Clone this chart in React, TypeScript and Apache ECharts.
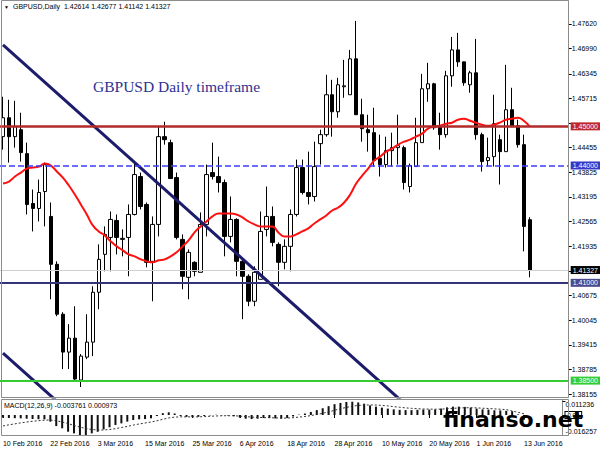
import { useEffect, useRef } from 'react';
import * as echarts from 'echarts';

// ---- categories (trading days) ----
const febDays = [10, 11, 12, 15, 16, 17, 18, 19, 22, 23, 24, 25, 26, 29];
const marDays = [1, 2, 3, 4, 7, 8, 9, 10, 11, 14, 15, 16, 17, 18, 21, 22, 23, 24, 25, 28, 29, 30, 31];
const aprDays = [1, 4, 5, 6, 7, 8, 11, 12, 13, 14, 15, 18, 19, 20, 21, 22, 25, 26, 27, 28, 29];
const mayDays = [2, 3, 4, 5, 6, 9, 10, 11, 12, 13, 16, 17, 18, 19, 20, 23, 24, 25, 26, 27, 30, 31];
const junDays = [1, 2, 3, 6, 7, 8, 9, 10, 13];
const monthNames = ['Feb', 'Mar', 'Apr', 'May', 'Jun'];
const monthDays = [febDays, marDays, aprDays, mayDays, junDays];
const emptySlots = 6;

// ---- OHLC ----
const opens = [
  1.44737, 1.45221, 1.44737, 1.44915, 1.44303, 1.43028, 1.42901, 1.43334, 1.42697, 1.41473,
  1.40198, 1.39229, 1.39586, 1.38515, 1.39101, 1.39484, 1.40759, 1.41728, 1.42161, 1.42595,
  1.4211, 1.42161, 1.42748, 1.43717, 1.43003, 1.41549, 1.42493, 1.44737, 1.44584, 1.43691,
  1.4211, 1.41141, 1.41524, 1.41269, 1.42493, 1.43819, 1.43717, 1.43564, 1.42187, 1.4262,
  1.41549, 1.41167, 1.40529, 1.4109, 1.42365, 1.42697, 1.41983, 1.41524, 1.41932, 1.42748,
  1.43946, 1.43309, 1.43207, 1.44558, 1.44788, 1.45808, 1.45374, 1.46012, 1.45808, 1.46726,
  1.45298, 1.44915, 1.44839, 1.44176, 1.44023, 1.4438, 1.44456, 1.44456, 1.43462, 1.43972,
  1.44584, 1.45961, 1.46088, 1.44992, 1.44788, 1.46292, 1.46955, 1.46649, 1.46063, 1.46369,
  1.44788, 1.44125, 1.44227, 1.4466, 1.44354, 1.45425, 1.45017, 1.44533, 1.42614,
];
const closes = [
  1.45221, 1.44737, 1.44992, 1.44329, 1.43003, 1.42901, 1.43309, 1.44023, 1.41473, 1.40198,
  1.39229, 1.39586, 1.3854, 1.39127, 1.39484, 1.40759, 1.416, 1.42238, 1.4262, 1.42161,
  1.42136, 1.42748, 1.43768, 1.42952, 1.41524, 1.42493, 1.44737, 1.4466, 1.43666, 1.42161,
  1.41167, 1.41779, 1.41294, 1.42493, 1.43768, 1.43717, 1.43564, 1.42187, 1.4262, 1.41549,
  1.41167, 1.40529, 1.41269, 1.42314, 1.42697, 1.42034, 1.41524, 1.41932, 1.42748, 1.43946,
  1.43309, 1.43207, 1.43972, 1.44788, 1.45808, 1.45374, 1.46063, 1.46037, 1.46726, 1.45298,
  1.44941, 1.44839, 1.44125, 1.44023, 1.4438, 1.44456, 1.44507, 1.43564, 1.43997, 1.44584,
  1.45961, 1.46088, 1.44966, 1.44788, 1.46292, 1.46955, 1.46649, 1.46114, 1.46369, 1.44788,
  1.44099, 1.44201, 1.45068, 1.44354, 1.45425, 1.44992, 1.44533, 1.42442, 1.41327,
];
const lows = [
  1.44405, 1.44074, 1.44456, 1.44099, 1.42748, 1.42314, 1.42569, 1.42442, 1.4058, 1.40147,
  1.38795, 1.38795, 1.38515, 1.38336, 1.3905, 1.39127, 1.40325, 1.41294, 1.41294, 1.41728,
  1.41677, 1.41167, 1.42722, 1.42875, 1.41396, 1.40529, 1.42187, 1.44533, 1.43666, 1.4211,
  1.40835, 1.4058, 1.41167, 1.41269, 1.42187, 1.4364, 1.43309, 1.41677, 1.42034, 1.41167,
  1.4007, 1.40402, 1.40402, 1.4109, 1.42187, 1.41932, 1.40912, 1.41345, 1.41294, 1.42697,
  1.43258, 1.43003, 1.43079, 1.44023, 1.44737, 1.44737, 1.45221, 1.45731, 1.45808, 1.45298,
  1.44609, 1.44354, 1.43972, 1.43717, 1.43946, 1.43972, 1.44023, 1.43385, 1.43309, 1.43972,
  1.44584, 1.45629, 1.44915, 1.44405, 1.44711, 1.46012, 1.46522, 1.46037, 1.45859, 1.4466,
  1.43844, 1.43972, 1.43972, 1.43513, 1.44354, 1.44992, 1.44456, 1.41804, 1.41142,
];
const highs = [
  1.45757, 1.4568, 1.45655, 1.45349, 1.44584, 1.43385, 1.4364, 1.44074, 1.43054, 1.41549,
  1.40249, 1.39943, 1.40402, 1.39178, 1.40198, 1.40912, 1.41983, 1.42442, 1.42824, 1.42748,
  1.42365, 1.43003, 1.44074, 1.43819, 1.43054, 1.42697, 1.44992, 1.45119, 1.4466, 1.43819,
  1.42238, 1.41855, 1.41549, 1.42799, 1.44023, 1.44584, 1.44227, 1.4364, 1.43207, 1.4265,
  1.41575, 1.41218, 1.41422, 1.42824, 1.43462, 1.42952, 1.42034, 1.4211, 1.42875, 1.4415,
  1.4415, 1.44354, 1.44609, 1.44915, 1.46318, 1.4619, 1.46241, 1.467, 1.46955, 1.47695,
  1.45706, 1.45298, 1.45476, 1.44788, 1.44737, 1.44839, 1.45298, 1.44507, 1.44048, 1.45221,
  1.46343, 1.46624, 1.46114, 1.45349, 1.4642, 1.47287, 1.47389, 1.46649, 1.4642, 1.47236,
  1.44839, 1.44711, 1.45808, 1.44788, 1.46573, 1.45986, 1.4517, 1.44788, 1.42677,
];

// ---- moving average (red) ----
const maValues = [
  1.43538, 1.43589, 1.43717, 1.43819, 1.43921, 1.43946, 1.43972, 1.44048, 1.43997, 1.43844,
  1.43691, 1.43487, 1.43258, 1.43003, 1.42748, 1.42467, 1.42314, 1.42212, 1.42059, 1.41932,
  1.4183, 1.41728, 1.41677, 1.416, 1.41549, 1.41524, 1.41575, 1.416, 1.41677, 1.41779,
  1.41932, 1.42085, 1.42289, 1.42442, 1.42569, 1.42697, 1.42773, 1.42773, 1.42773, 1.42748,
  1.42671, 1.42569, 1.42493, 1.42442, 1.42442, 1.42442, 1.42289, 1.42187, 1.42187, 1.42238,
  1.42314, 1.42391, 1.42518, 1.4262, 1.42722, 1.4285, 1.42926, 1.43054, 1.43258, 1.43538,
  1.43742, 1.43921, 1.44125, 1.44227, 1.44354, 1.44431, 1.44533, 1.44609, 1.4466, 1.44737,
  1.44813, 1.44941, 1.44992, 1.45017, 1.45068, 1.45094, 1.4517, 1.45196, 1.45145, 1.45094,
  1.45043, 1.45017, 1.45043, 1.45094, 1.4517, 1.45196, 1.45221, 1.45145, 1.44992,
];

// ---- trend lines: [bar index, price] ----
const upperTrend = [[0, 1.47083], [70, 1.37512]];
const lowerTrend = [[0, 1.39203], [10, 1.37836]];

// ---- horizontal levels ----
const levelValues = [1.45, 1.44, 1.41327, 1.41, 1.385];

// ---- price axis ----
const priceMin = 1.38081;
const priceMax = 1.48205;
const priceTicks = [
  1.38155, 1.38785, 1.39415, 1.40045, 1.40675, 1.41305, 1.41935, 1.42565,
  1.43195, 1.43825, 1.44455, 1.45085, 1.45715, 1.46345, 1.4699, 1.4762,
];
// labels hidden behind the level tags in the reference
const priceLabels = [
  1.38155, 1.38785, 1.39415, 1.40045, 1.40675, 1.41935, 1.42565,
  1.43195, 1.43825, 1.44455, 1.45715, 1.46345, 1.4699, 1.4762,
];

// ---- MACD ----
const macdMain = [
  -0.0022, -0.0024, -0.0026, -0.0027, -0.003, -0.0032, -0.0034, -0.0035, -0.0054, -0.009,
  -0.0108, -0.0136, -0.0149, -0.0163, -0.0163, -0.0149, -0.0136, -0.0117, -0.01, -0.0081,
  -0.0068, -0.0054, -0.0041, -0.0035, -0.0033, -0.0027, -0.0008, 0.0015, 0.0022, 0.0012,
  -0.0008, -0.0015, -0.0018, -0.0015, -0.0008, -0.0003, 0.0002, -0.0002, -0.0004, -0.001,
  -0.0022, -0.003, -0.0033, -0.003, -0.0025, -0.0024, -0.0028, -0.003, -0.0025, -0.0012,
  0.0003, 0.0012, 0.0025, 0.004, 0.0055, 0.0072, 0.0088, 0.0098, 0.0106, 0.0108,
  0.0102, 0.0092, 0.0078, 0.0068, 0.006, 0.0052, 0.0046, 0.0042, 0.004, 0.004,
  0.0042, 0.0045, 0.0044, 0.0045, 0.0052, 0.0062, 0.0068, 0.0068, 0.0066, 0.006,
  0.0052, 0.0046, 0.0044, 0.0038, 0.0037, 0.0034, 0.003, 0.0005, -0.003761,
];
const macdSignal = [
  -0.0089, -0.008, -0.0072, -0.0064, -0.0057, -0.0051, -0.0046, -0.0042, -0.0041, -0.0047,
  -0.0057, -0.007, -0.0085, -0.0098, -0.011, -0.0118, -0.0122, -0.0122, -0.0118, -0.0111,
  -0.0102, -0.0093, -0.0082, -0.0073, -0.0065, -0.0057, -0.0047, -0.0035, -0.0024, -0.0017,
  -0.0015, -0.0015, -0.0015, -0.0015, -0.0013, -0.001, -0.0008, -0.0006, -0.0006, -0.0006,
  -0.0009, -0.0013, -0.0017, -0.002, -0.0021, -0.0022, -0.0023, -0.0025, -0.0025, -0.0022,
  -0.0017, -0.0012, -0.0005, 0.0004, 0.0014, 0.0026, 0.0038, 0.0051, 0.0062, 0.0071,
  0.0078, 0.0081, 0.0082, 0.0081, 0.0078, 0.0074, 0.0068, 0.0063, 0.0058, 0.0054,
  0.0051, 0.0049, 0.0048, 0.0047, 0.0048, 0.0051, 0.0054, 0.0057, 0.0059, 0.0059,
  0.0058, 0.0055, 0.0053, 0.005, 0.0047, 0.0044, 0.0032, 0.0022, 0.000973,
];
const macdMin = -0.016257;
const macdMax = 0.0122;
const macdTicks = [-0.016257, 0, 0.011236];

const FONT = 'Liberation Sans, Arial, sans-serif';

export default function App() {
  const ref = useRef<HTMLDivElement>(null);

  useEffect(() => {
    if (!ref.current) return;
    const chart = echarts.init(ref.current, null, { renderer: 'svg' });

    const dates: string[] = [];
    monthDays.forEach((days, mi) => days.forEach((d) => dates.push(`${d} ${monthNames[mi]} 2016`)));
    const categories = [...dates, ...Array(emptySlots).fill('')];
    const candles = opens.map((o, i) => [o, closes[i], lows[i], highs[i]]);

    const levelStyles = [
      { color: '#B22B2B', width: 2.5, type: 'solid', tag: '#C0282D', txt: '#fff' },
      { color: '#3C3CFF', width: 1.5, type: 'dashed', tag: '#3737C8', txt: '#fff' },
      { color: '#CFCFCF', width: 1, type: 'solid', tag: '#000', txt: '#fff' },
      { color: '#33337A', width: 2, type: 'solid', tag: '#4A4A8C', txt: '#fff' },
      { color: '#33CC33', width: 2, type: 'solid', tag: '#33CC33', txt: '#fff' },
    ];

    const option: any = {
      animation: false,
      backgroundColor: '#ffffff',
      grid: [
        { left: -1, width: 570, top: 1, height: 396 },
        { left: -1, width: 570, top: 400, height: 35 },
      ],
      xAxis: [
        {
          gridIndex: 0, type: 'category', data: categories, boundaryGap: true,
          axisLine: { show: false }, axisTick: { show: false }, axisLabel: { show: false },
          splitLine: { show: false },
        },
        {
          gridIndex: 1, type: 'category', data: categories, boundaryGap: true,
          axisLine: { show: false },
          axisTick: { show: true, interval: 7, alignWithLabel: true, length: 3, lineStyle: { color: '#000' } },
          axisLabel: { interval: 7, align: 'left', fontSize: 7, fontFamily: FONT, color: '#000', margin: 5 },
          splitLine: { show: false },
        },
      ],
      yAxis: [
        {
          gridIndex: 0, type: 'value', position: 'right', min: priceMin, max: priceMax,
          axisLine: { show: true, lineStyle: { color: '#8c8c8c' } },
          axisTick: { show: true, customValues: priceTicks, length: 3, lineStyle: { color: '#000' } },
          axisLabel: {
            customValues: priceLabels, formatter: (v: number) => v.toFixed(5),
            fontSize: 7, fontFamily: FONT, color: '#000', margin: 3,
          },
          splitLine: { show: false },
        },
        {
          gridIndex: 1, type: 'value', position: 'right', min: macdMin, max: macdMax,
          axisLine: { show: true, lineStyle: { color: '#8c8c8c' } },
          axisTick: { show: true, customValues: macdTicks, length: 3, lineStyle: { color: '#000' } },
          axisLabel: {
            customValues: macdTicks,
            formatter: (v: number) => (v === 0 ? '{z|0.00}' : v.toFixed(6)),
            fontSize: 7, fontFamily: FONT, color: '#000', margin: 3,
            verticalAlignMinLabel: 'bottom', verticalAlignMaxLabel: 'top',
            rich: {
              z: { fontSize: 6, fontFamily: FONT, borderColor: '#000', borderWidth: 1, padding: [0, 2], backgroundColor: '#fff' },
            },
          },
          splitLine: { show: false },
        },
      ],
      series: [
        {
          type: 'candlestick', xAxisIndex: 0, yAxisIndex: 0, data: candles, barWidth: 4, z: 2,
          itemStyle: { color: '#ffffff', color0: '#000000', borderColor: '#000000', borderColor0: '#000000', borderWidth: 1 },
        },
        {
          type: 'line', xAxisIndex: 0, yAxisIndex: 0, data: maValues, smooth: true, showSymbol: false, z: 3,
          lineStyle: { color: '#FF1010', width: 2 },
          markLine: {
            symbol: 'none', silent: true, animation: false, precision: 5,
            data: levelValues.map((v, i) => ({
              yAxis: v,
              lineStyle: {
                color: levelStyles[i].color, width: levelStyles[i].width, type: levelStyles[i].type,
                dashOffset: 0, opacity: 1,
              },
              label: {
                show: true, position: 'end', distance: 2,
                formatter: () => v.toFixed(5),
                backgroundColor: levelStyles[i].tag, color: levelStyles[i].txt,
                fontSize: 7, fontFamily: FONT, padding: [1, 2, 0, 2],
              },
            })),
          },
        },
        {
          type: 'line', xAxisIndex: 0, yAxisIndex: 0, data: upperTrend, showSymbol: false, z: 4,
          lineStyle: { color: '#1C1C6B', width: 3 },
        },
        {
          type: 'line', xAxisIndex: 0, yAxisIndex: 0, data: lowerTrend, showSymbol: false, z: 4,
          lineStyle: { color: '#1C1C6B', width: 3 },
        },
        {
          type: 'bar', xAxisIndex: 1, yAxisIndex: 1, data: macdMain, barWidth: 2,
          itemStyle: { color: '#111111' },
        },
        {
          type: 'line', xAxisIndex: 1, yAxisIndex: 1, data: macdSignal, showSymbol: false,
          lineStyle: { color: '#333333', width: 1, type: [2, 2] },
        },
      ],
      graphic: [
        { type: 'rect', shape: { x: 1.5, y: 0.5, width: 567, height: 397 }, style: { fill: 'none', stroke: '#8c8c8c', lineWidth: 1 }, silent: true, z: 10 },
        { type: 'rect', shape: { x: 1.5, y: 399.5, width: 567, height: 36 }, style: { fill: 'none', stroke: '#8c8c8c', lineWidth: 1 }, silent: true, z: 10 },
        { type: 'text', left: 4, top: 4, style: { text: '▼', fontSize: 5, fill: '#000', fontFamily: FONT }, z: 11 },
        { type: 'text', left: 13, top: 3, style: { text: 'GBPUSD,Daily  1.42614 1.42677 1.41142 1.41327', fontSize: 7, fill: '#000', fontFamily: FONT }, z: 11 },
        { type: 'text', left: 93, top: 78, style: { text: 'GBPUSD Daily timeframe', fontSize: 15.5, fill: '#2E3192', fontFamily: 'Liberation Serif, Times New Roman, serif' }, z: 11 },
        { type: 'text', left: 4, top: 402, style: { text: 'MACD(12,26,9) -0.003761 0.000973', fontSize: 7, fill: '#000', fontFamily: FONT }, z: 11 },
        { type: 'text', left: 443, top: 408, style: { text: 'finanso.net', fontSize: 22, fontWeight: 'bold', fill: '#000', fontFamily: 'DejaVu Sans, sans-serif' }, z: 12 },
      ],
    };

    chart.setOption(option);
    return () => chart.dispose();
  }, []);

  return <div ref={ref} style={{ position: 'fixed', left: 0, top: 0, width: 600, height: 450 }} />;
}
